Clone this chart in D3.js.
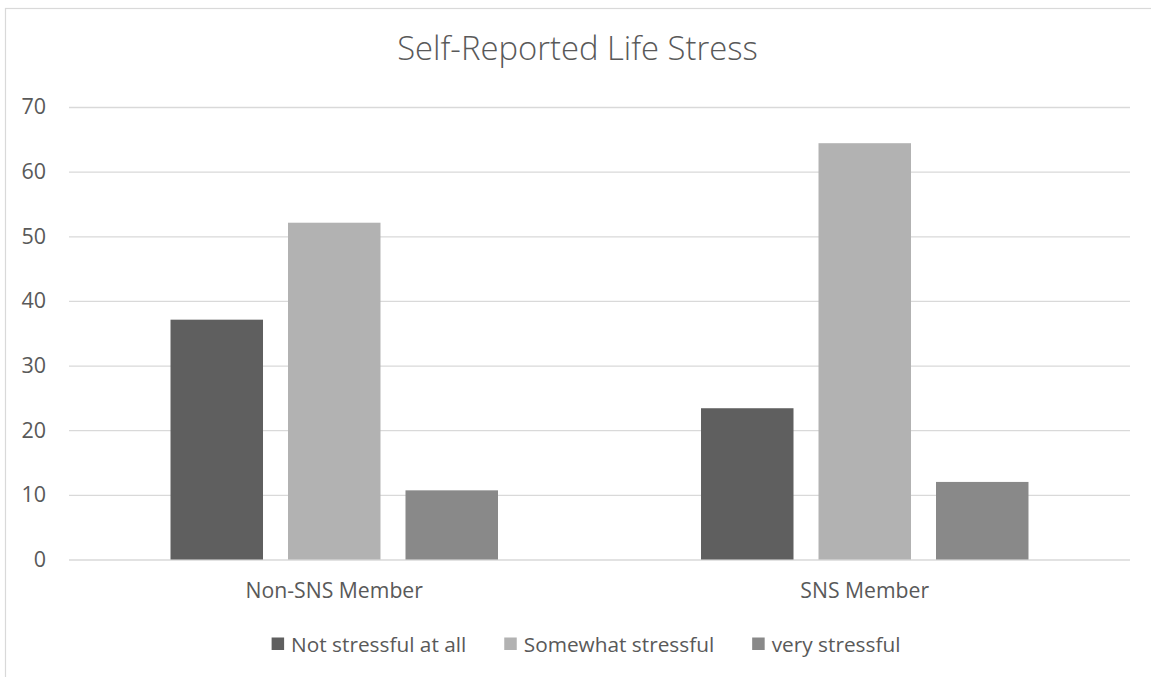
<!DOCTYPE html>
<html>
<head>
<meta charset="utf-8">
<script src="https://cdn.jsdelivr.net/npm/d3@7"></script>
<style>
  html, body { margin: 0; padding: 0; background: #ffffff; }
  svg { display: block; }
  text { font-family: "Open Sans", "Liberation Sans", sans-serif; fill: #595959; }
</style>
</head>
<body>
<div id="chart"></div>
<script>
// Chart data
const categories = ["Non-SNS Member", "SNS Member"];
const seriesNames = ["Not stressful at all", "Somewhat stressful", "very stressful"];
const notStressful = [37.1, 23.4];
const somewhatStressful = [52.1, 64.4];
const veryStressful = [10.7, 12.0];
const yTicks = [0, 10, 20, 30, 40, 50, 60, 70];
const titleText = "Self-Reported Life Stress";

const seriesValues = [notStressful, somewhatStressful, veryStressful];
const seriesColors = ["#5f5f5f", "#b2b2b2", "#898989"];

const W = 1151, H = 677;
const plot = { left: 69, right: 1130, top: 107, bottom: 559.5 };

const svg = d3.select("#chart").append("svg")
  .attr("width", W).attr("height", H);

// chart frame (extends past the right and bottom edges of the view)
svg.append("rect")
  .attr("x", 5.5).attr("y", 8.5)
  .attr("width", 1160).attr("height", 700)
  .attr("fill", "none").attr("stroke", "#d9d9d9").attr("stroke-width", 1.2);

// title
svg.append("text")
  .attr("x", 577.5).attr("y", 60)
  .attr("text-anchor", "middle")
  .style("font-size", "32.8px")
  .style("font-weight", 300)
  .text(titleText);

const y = d3.scaleLinear().domain([0, 70]).range([plot.bottom, plot.top]);

const x0 = d3.scaleBand()
  .domain(categories)
  .range([plot.left, plot.right])
  .paddingInner(0.3827)
  .paddingOuter(0.19135);

const x1 = d3.scaleBand()
  .domain(d3.range(seriesNames.length))
  .range([0, x0.bandwidth()])
  .paddingInner(0.2128)
  .paddingOuter(0);

// gridlines + y tick labels
const yAxis = d3.axisLeft(y)
  .tickValues(yTicks)
  .tickSize(-(plot.right - plot.left))
  .tickPadding(23)
  .tickFormat(d3.format("d"));

const gy = svg.append("g")
  .attr("transform", `translate(${plot.left},0)`)
  .call(yAxis);
gy.select(".domain").remove();
gy.selectAll(".tick line")
  .attr("stroke", "#d9d9d9").attr("stroke-width", 1.3);
gy.selectAll(".tick text")
  .attr("fill", "#595959")
  .style("font-size", "21.5px")
  .style("font-family", "'Open Sans', sans-serif");

// bars
const groups = svg.append("g").selectAll("g")
  .data(categories)
  .join("g")
  .attr("transform", d => `translate(${x0(d)},0)`);

groups.selectAll("rect")
  .data((c, ci) => seriesValues.map((vals, si) => ({ si, v: vals[ci] })))
  .join("rect")
  .attr("x", d => x1(d.si))
  .attr("width", x1.bandwidth())
  .attr("y", d => y(d.v))
  .attr("height", d => y(0) - y(d.v))
  .attr("fill", d => seriesColors[d.si]);

// category axis labels
const xAxis = d3.axisBottom(x0).tickSize(0).tickPadding(0);
const gx = svg.append("g")
  .attr("transform", `translate(0,${plot.bottom})`)
  .call(xAxis);
gx.select(".domain").remove();
gx.selectAll(".tick text")
  .attr("y", 38.5).attr("dy", null)
  .attr("fill", "#595959")
  .style("font-size", "21.2px")
  .style("font-family", "'Open Sans', sans-serif");

// legend
const legend = svg.append("g");
const sw = 12.5, gapText = 7, gapItem = 38;
const items = legend.selectAll("g")
  .data(seriesNames)
  .join("g");
items.append("rect")
  .attr("width", sw).attr("height", sw)
  .attr("y", 637.5)
  .attr("fill", (d, i) => seriesColors[i]);
items.append("text")
  .attr("x", sw + gapText).attr("y", 651.5)
  .style("font-size", "20.8px")
  .text(d => d);

const widths = [];
items.each(function() {
  const tw = d3.select(this).select("text").node().getComputedTextLength();
  widths.push(sw + gapText + tw);
});
const total = d3.sum(widths) + gapItem * (widths.length - 1);
let start = 586 - total / 2;
items.attr("transform", (d, i) => {
  const t = `translate(${start},0)`;
  start += widths[i] + gapItem;
  return t;
});
</script>
</body>
</html>
